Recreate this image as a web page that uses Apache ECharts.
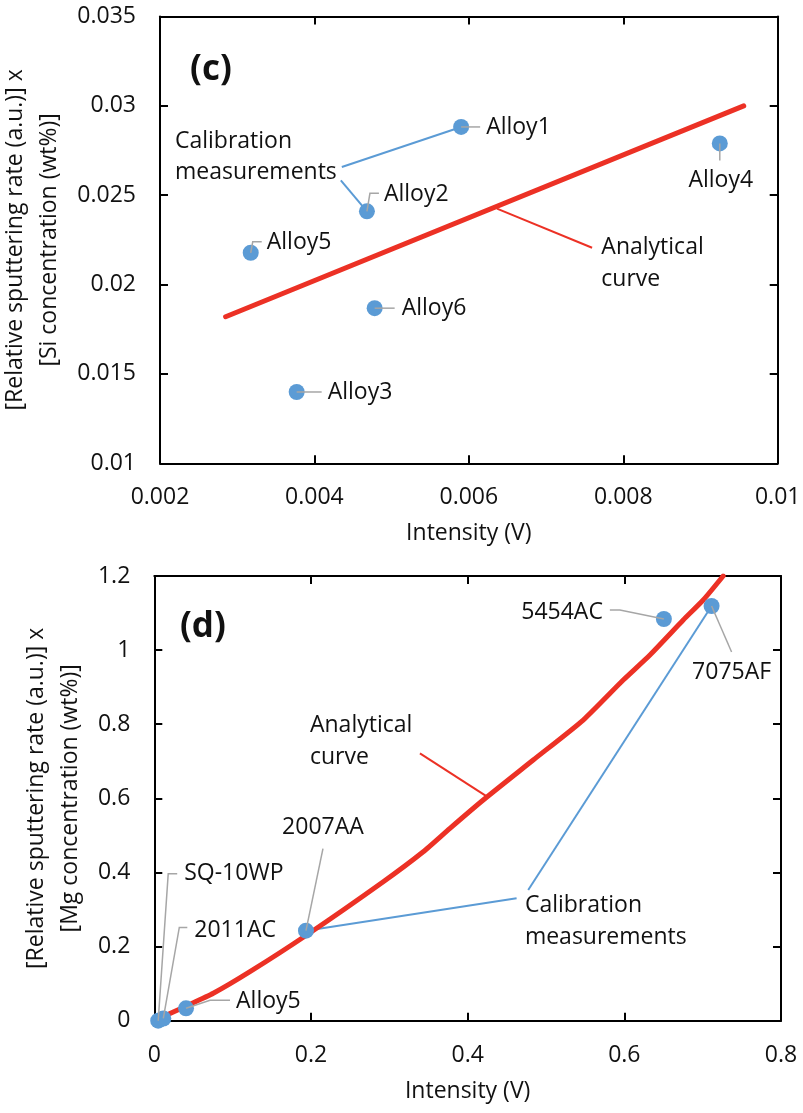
<!DOCTYPE html>
<html>
<head>
<meta charset="utf-8">
<script src="https://cdn.jsdelivr.net/npm/echarts@6/dist/echarts.min.js"></script>
<style>
  html, body { margin: 0; padding: 0; background: #fff; }
  #chart { width: 803px; height: 1113px; }
</style>
</head>
<body>
<div id="chart"></div>
<script>
// ---- Panel (c): Si calibration ----
const siAlloys    = ['Alloy1', 'Alloy2', 'Alloy3', 'Alloy4', 'Alloy5', 'Alloy6'];
const siIntensity = [0.00590, 0.00468, 0.00377, 0.00925, 0.003175, 0.00478];
const siValue     = [0.02882, 0.02410, 0.01399, 0.02790, 0.02178, 0.01868];
const siCurveX    = [0.00285, 0.00956];
const siCurveY    = [0.01820, 0.03000];
const siXTicks    = [0.002, 0.004, 0.006, 0.008, 0.01];
const siYTicks    = [0.01, 0.015, 0.02, 0.025, 0.03, 0.035];

// ---- Panel (d): Mg calibration ----
const mgAlloys    = ['SQ-10WP', '2011AC', 'Alloy5', '2007AA', '5454AC', '7075AF'];
const mgIntensity = [0.005, 0.0115, 0.0405, 0.1936, 0.6505, 0.7114];
const mgValue     = [0.000, 0.0060, 0.0335, 0.2430, 1.0840, 1.1190];
const mgCurveX    = [0.002, 0.0158, 0.0405, 0.0753, 0.1221, 0.1945, 0.2923, 0.3433, 0.3774, 0.4199, 0.4837, 0.5475, 0.5986, 0.6327, 0.6752, 0.7007, 0.7262];
const mgCurveY    = [0.000, 0.0154, 0.0394, 0.0739, 0.1322, 0.2312, 0.3751, 0.4560, 0.5192, 0.5957, 0.7035, 0.8114, 0.9193, 0.9868, 1.0812, 1.1352, 1.2];
const mgXTicks    = [0, 0.2, 0.4, 0.6, 0.8];
const mgYTicks    = [0, 0.2, 0.4, 0.6, 0.8, 1, 1.2];

const yTitleSi = '[Relative sputtering rate (a.u.)] x\n[Si concentration (wt%)]';
const yTitleMg = '[Relative sputtering rate (a.u.)] x\n[Mg concentration (wt%)]';
const xTitle   = 'Intensity (V)';

const FONT = '"Open Sans", Lato, sans-serif';
const INK = '#111';
const BLUE = '#5b9bd5';
const RED = '#ec3125';
const GREY = '#a6a6a6';
const FS = 23;

// Label leaders: polyline offsets (px) from the marker, label offset, alignment
const siLabelLayout = {
  Alloy1: { path: [[0, 0], [19, 0]], at: [25, 1], align: 'left' },
  Alloy2: { path: [[0, 0], [3, -18], [12, -18]], at: [17, -17], align: 'left' },
  Alloy3: { path: [[0, 0], [25, 0]], at: [31, 0], align: 'left' },
  Alloy4: { path: [[0, 0], [0, 17]], at: [1, 37], align: 'center' },
  Alloy5: { path: [[0, 0], [2, -11], [11, -11]], at: [16, -10], align: 'left' },
  Alloy6: { path: [[0, 0], [20, 0]], at: [27, 0], align: 'left' }
};
const mgLabelLayout = {
  'SQ-10WP': { path: [[0, 0], [10, -147], [19, -147]], at: [26, -147], align: 'left' },
  '2011AC':  { path: [[0, 0], [16, -91], [24, -91]], at: [31, -88], align: 'left' },
  'Alloy5':  { path: [[0, 0], [24, -8], [44, -8]], at: [50, -7], align: 'left' },
  '2007AA':  { path: [[0, 0], [17, -82]], at: [17, -103], align: 'center' },
  '5454AC':  { path: [[0, 0], [-44, -9], [-54, -9]], at: [-61, -7], align: 'right' },
  '7075AF':  { path: [[0, 0], [20, 46]], at: [20, 66], align: 'center' }
};

function tickRange(ticks) {
  return { min: ticks[0], max: ticks[ticks.length - 1], interval: +(ticks[1] - ticks[0]).toFixed(10) };
}
const fmt = v => String(parseFloat(Number(v).toFixed(6)));

const AXIS_LINE = { show: true, onZero: false, lineStyle: { color: '#000', width: 2 } };
const AXIS_TICK = { show: true, inside: true, length: 8, lineStyle: { color: '#000', width: 2 } };

function mainX(grid, ticks) {
  const r = tickRange(ticks);
  return {
    gridIndex: grid, type: 'value', position: 'bottom', min: r.min, max: r.max, interval: r.interval,
    axisLine: AXIS_LINE, axisTick: AXIS_TICK,
    axisLabel: { color: INK, fontSize: FS, fontFamily: FONT, margin: 23, formatter: fmt },
    splitLine: { show: false },
    name: xTitle, nameLocation: 'middle', nameGap: 59,
    nameTextStyle: { color: INK, fontSize: FS, fontFamily: FONT }
  };
}
function mirrorX(grid, ticks) {
  const r = tickRange(ticks);
  return {
    gridIndex: grid, type: 'value', position: 'top', min: r.min, max: r.max, interval: r.interval,
    axisLine: AXIS_LINE, axisTick: AXIS_TICK,
    axisLabel: { show: false }, splitLine: { show: false }
  };
}
function mainY(grid, ticks, title, gap) {
  const r = tickRange(ticks);
  return {
    gridIndex: grid, type: 'value', position: 'left', min: r.min, max: r.max, interval: r.interval,
    axisLine: AXIS_LINE, axisTick: AXIS_TICK,
    axisLabel: { color: INK, fontSize: FS, fontFamily: FONT, margin: 24, formatter: fmt },
    splitLine: { show: false },
    name: title, nameLocation: 'middle', nameGap: gap,
    nameTextStyle: { color: INK, fontSize: FS, fontFamily: FONT, lineHeight: 34 }
  };
}
function mirrorY(grid, ticks) {
  const r = tickRange(ticks);
  return {
    gridIndex: grid, type: 'value', position: 'right', min: r.min, max: r.max, interval: r.interval,
    axisLine: AXIS_LINE, axisTick: AXIS_TICK,
    axisLabel: { show: false }, splitLine: { show: false }
  };
}

const zip = (xs, ys) => xs.map((x, i) => [x, ys[i]]);

const chart = echarts.init(document.getElementById('chart'), null, { renderer: 'canvas' });

chart.setOption({
  animation: false,
  backgroundColor: '#fff',
  grid: [
    { left: 160, top: 16.5, right: 25.3, height: 446.8, containLabel: false, outerBoundsMode: 'none' },
    { left: 154.3, top: 576, right: 22, height: 444.7, containLabel: false, outerBoundsMode: 'none' }
  ],
  xAxis: [mainX(0, siXTicks), mirrorX(0, siXTicks), mainX(1, mgXTicks), mirrorX(1, mgXTicks)],
  yAxis: [mainY(0, siYTicks, yTitleSi, 80), mirrorY(0, siYTicks), mainY(1, mgYTicks, yTitleMg, 54), mirrorY(1, mgYTicks)],
  series: [
    {
      name: 'Analytical curve (Si)', type: 'line', xAxisIndex: 0, yAxisIndex: 0,
      data: zip(siCurveX, siCurveY), showSymbol: false, symbol: 'none',
      lineStyle: { color: RED, width: 5, cap: 'round' }, z: 3
    },
    {
      name: 'Calibration (Si)', type: 'scatter', xAxisIndex: 0, yAxisIndex: 0,
      data: siAlloys.map((n, i) => ({ name: n, value: [siIntensity[i], siValue[i]] })),
      symbolSize: 16, itemStyle: { color: BLUE, opacity: 1 }, clip: false, z: 5
    },
    {
      name: 'Analytical curve (Mg)', type: 'line', xAxisIndex: 2, yAxisIndex: 2,
      data: zip(mgCurveX, mgCurveY), showSymbol: false, symbol: 'none', smooth: 0.2,
      lineStyle: { color: RED, width: 5, cap: 'round', join: 'round' }, z: 3
    },
    {
      name: 'Calibration (Mg)', type: 'scatter', xAxisIndex: 2, yAxisIndex: 2,
      data: mgAlloys.map((n, i) => ({ name: n, value: [mgIntensity[i], mgValue[i]] })),
      symbolSize: 16, itemStyle: { color: BLUE, opacity: 1 }, clip: false, z: 5
    }
  ]
});

// ---- Annotations (data coordinates of each panel) ----
function px(grid, pt) {
  return chart.convertToPixel({ xAxisIndex: grid === 0 ? 0 : 2, yAxisIndex: grid === 0 ? 0 : 2 }, pt);
}
function text(x, y, str, opts) {
  return {
    type: 'text', z: 100, silent: true,
    style: Object.assign({
      text: str, x: x, y: y, fill: INK, fontSize: FS, fontFamily: FONT,
      align: 'left', verticalAlign: 'middle', textAlign: 'left', textVerticalAlign: 'middle'
    }, opts || {})
  };
}
function line(points, color, width, z) {
  return {
    type: 'polyline', z: z, silent: true,
    shape: { points: points },
    style: { stroke: color, lineWidth: width, fill: null }
  };
}

const graphics = [];

function pointLabels(grid, names, xs, ys, layout) {
  names.forEach((n, i) => {
    const c = px(grid, [xs[i], ys[i]]);
    const L = layout[n];
    graphics.push(line(L.path.map(p => [c[0] + p[0], c[1] + p[1]]), GREY, 1.5, 60));
    graphics.push(text(c[0] + L.at[0], c[1] + L.at[1], n, { align: L.align, textAlign: L.align }));
  });
}
pointLabels(0, siAlloys, siIntensity, siValue, siLabelLayout);
pointLabels(1, mgAlloys, mgIntensity, mgValue, mgLabelLayout);

// Panel letters
let p = px(0, [0.00239, 0.0320]);
graphics.push(text(p[0], p[1], '(c)', { fontSize: 35, fontWeight: 'bold' }));
p = px(1, [0.0328, 1.061]);
graphics.push(text(p[0], p[1], '(d)', { fontSize: 35, fontWeight: 'bold' }));

// Panel (c) callouts
const si1 = siAlloys.indexOf('Alloy1'), si2 = siAlloys.indexOf('Alloy2');
p = px(0, [0.002194, 0.027124]);
graphics.push(text(p[0], p[1], 'Calibration\nmeasurements', { lineHeight: 31 }));
graphics.push(line([px(0, [0.004355, 0.026581]), px(0, [siIntensity[si1], siValue[si1]])], BLUE, 2, 2));
graphics.push(line([px(0, [0.004342, 0.025835]), px(0, [siIntensity[si2], siValue[si2]])], BLUE, 2, 2));
graphics.push(line([px(0, [0.006364, 0.024249]), px(0, [0.007596, 0.022063])], RED, 2, 2));
p = px(0, [0.007716, 0.021183]);
graphics.push(text(p[0], p[1], 'Analytical\ncurve', { lineHeight: 32 }));

// Panel (d) callouts
const mgA = mgAlloys.indexOf('2007AA'), mgF = mgAlloys.indexOf('7075AF');
p = px(1, [0.1987, 0.7547]);
graphics.push(text(p[0], p[1], 'Analytical\ncurve', { lineHeight: 32 }));
graphics.push(line([px(1, [0.3391, 0.7215]), px(1, [0.4263, 0.6028])], RED, 2, 2));
p = px(1, [0.4731, 0.269]);
graphics.push(text(p[0], p[1], 'Calibration\nmeasurements', { lineHeight: 32 }));
graphics.push(line([px(1, [0.4773, 0.3527]), px(1, [mgIntensity[mgF], mgValue[mgF]])], BLUE, 2, 2));
graphics.push(line([px(1, [0.4625, 0.3303]), px(1, [mgIntensity[mgA], mgValue[mgA]])], BLUE, 2, 2));

chart.setOption({ graphic: { elements: graphics } });
</script>
</body>
</html>
